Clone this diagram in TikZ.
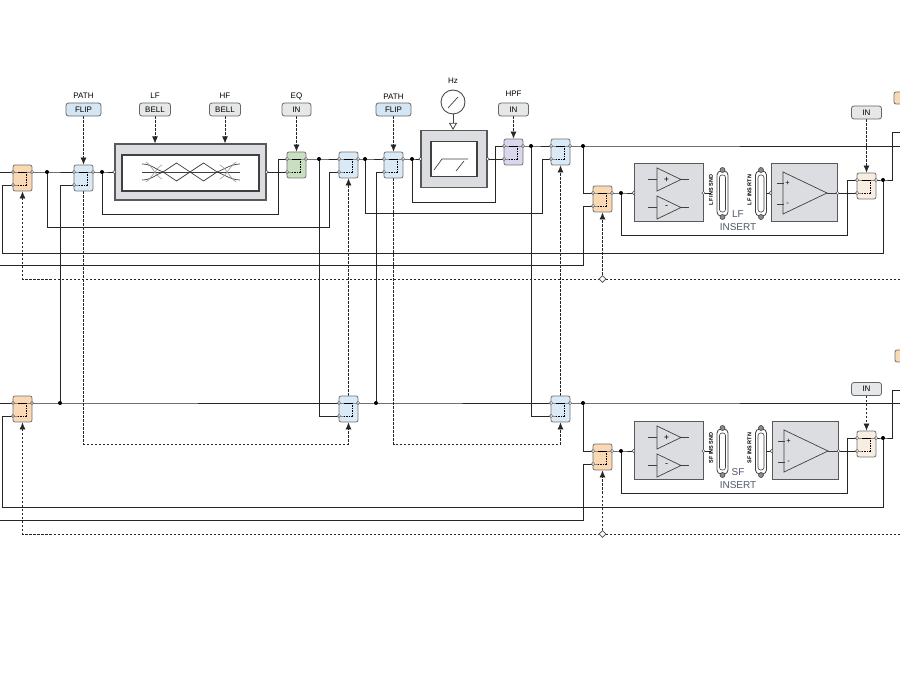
\documentclass[tikz,border=0pt]{standalone}
\usepackage{fontspec}
\setmainfont{Liberation Sans}
\usetikzlibrary{arrows.meta,shapes.geometric,calc}
\pgfdeclarelayer{back}
\pgfdeclarelayer{bg}
\pgfsetlayers{back,bg,main}
\definecolor{cOr}{HTML}{FAD8B4}
\definecolor{cBl}{HTML}{D9EAF6}
\definecolor{cGr}{HTML}{C8E0BF}
\definecolor{cPu}{HTML}{DAD6EE}
\definecolor{cCr}{HTML}{F7EDE0}
\definecolor{cBtn}{HTML}{E6E7E8}
\definecolor{cBtnB}{HTML}{D4E6F3}
\definecolor{cBox}{HTML}{DCDDE0}
\definecolor{cIns}{HTML}{505A6E}
\tikzset{
  wire/.style={line width=0.95pt, draw=black!85},
  ctl/.style={line width=0.75pt, draw=black!85, dash pattern=on 2.5pt off 1.5pt},
  arr/.style={-{Latex[length=7pt,width=6pt]}},
  btn/.style={draw=black!60, rounded corners=2.5pt, minimum height=13pt, inner sep=0pt, font=\fontsize{8}{9}\selectfont, line width=0.8pt},
  swb/.style={draw=black!55, rounded corners=2pt, minimum width=19pt, minimum height=26pt, inner sep=0pt, line width=0.8pt},
  lbl/.style={font=\fontsize{8}{9}\selectfont, inner sep=0pt},
  dot/.style={circle, fill=black, inner sep=0pt, minimum size=4pt},
  port/.style={circle, draw=black!70, fill=white, inner sep=0pt, minimum size=3.2pt, line width=0.5pt},
  blk/.style={draw=black!65, fill=cBox, line width=1.2pt, inner sep=0pt},
  inr/.style={draw=black!75, fill=white, line width=1.2pt, inner sep=0pt},
  ampbox/.style={draw=black!65, fill=cBox, line width=1pt, inner sep=0pt, minimum height=58pt},
  rotl/.style={font=\fontsize{5.5}{6}\selectfont\bfseries, rotate=90, inner sep=0pt},
  inslbl/.style={font=\fontsize{10}{11}\selectfont, text=cIns, inner sep=0pt},
  dmd/.style={diamond, draw=black!70, fill=white, inner sep=0pt, minimum size=7pt, line width=0.6pt},
  glyph/.style={draw=black!75, line width=0.7pt},
  fglyph/.style={draw=black!40, line width=0.6pt},
}
\newcommand\swnode[4]{%
  \node[swb, fill=#4] (#1) at ({#2+9.5},{#3+13}) {};
  \coordinate (#1-a) at (#2,{#3+7});
  \coordinate (#1-b) at (#2,{#3+20});
  \coordinate (#1-o) at ({#2+19},{#3+7});
  \draw[black!45, line width=0.5pt] (#1-a) -- (#1-o);
  \draw[black!45, line width=0.5pt] (#1-b) -- ++(5,0);
  \draw[black, line width=0.6pt] ({#2+5},{#3+7}) -- ({#2+13},{#3+7});
  \draw[black, line width=0.6pt, dash pattern=on 1.5pt off 1pt] ({#2+13},{#3+7}) -- ({#2+13},{#3+20}) -- ({#2+5},{#3+20});
  \node[port] (#1-pa) at (#1-a) {};
  \node[port] (#1-pb) at (#1-b) {};
  \node[port] (#1-po) at (#1-o) {};
}
\newcommand\dsubc[3]{%
  \node[draw=black!75, fill=white, rounded corners=4pt, minimum width=11pt, minimum height=45pt, inner sep=0pt, line width=0.8pt] (#1) at (#2,{#3+25.5}) {};
  \node[draw=black!75, fill=white, rounded corners=2.5pt, minimum width=6pt, minimum height=37pt, inner sep=0pt, line width=0.6pt] (#1i) at (#2,{#3+25.5}) {};
  \node[circle, draw=black!75, fill=black!45, minimum size=5pt, inner sep=0pt, line width=0.6pt] (#1t) at (#2,{#3+2}) {};
  \node[circle, draw=black!75, fill=black!45, minimum size=5pt, inner sep=0pt, line width=0.6pt] (#1u) at (#2,{#3+49}) {};
}
\newcommand\dualamp[2]{%
  \draw[glyph] ({#1-11.5},{#2-25}) -- ({#1-11.5},{#2-2}) -- ({#1+12.5},{#2-13.5}) -- cycle;
  \draw[glyph] ({#1-20.5},{#2-13.5}) -- ({#1-11.5},{#2-13.5});
  \draw[glyph] ({#1+12.5},{#2-13.5}) -- ({#1+20.5},{#2-13.5});
  \draw[glyph] ({#1-11.5},{#2+3}) -- ({#1-11.5},{#2+26}) -- ({#1+12.5},{#2+14.5}) -- cycle;
  \draw[glyph] ({#1-20.5},{#2+14.5}) -- ({#1-11.5},{#2+14.5});
  \draw[glyph] ({#1+12.5},{#2+14.5}) -- ({#1+20.5},{#2+14.5});
  \node[font=\fontsize{9}{9}\selectfont, inner sep=0pt] at ({#1-2},{#2-13.5}) {+};
  \node[font=\fontsize{9}{9}\selectfont, inner sep=0pt] at ({#1-2},{#2+14.5}) {-};
}
\newcommand\bigamp[2]{%
  \draw[glyph] ({#1-21},{#2-21}) -- ({#1-21},{#2+21}) -- ({#1+23},{#2}) -- cycle;
  \draw[glyph] ({#1-27},{#2-10}) -- ({#1-20},{#2-10});
  \draw[glyph] ({#1-27},{#2+11}) -- ({#1-20},{#2+11});
  \draw[glyph] ({#1+23},{#2}) -- ({#1+33},{#2});
  \node[font=\fontsize{7.5}{8}\selectfont, inner sep=0pt] at ({#1-16.5},{#2-10}) {+};
  \node[font=\fontsize{7.5}{8}\selectfont, inner sep=0pt] at ({#1-16.5},{#2+11}) {-};
}
\begin{document}
\begin{tikzpicture}[x=1pt,y=-1pt]
\useasboundingbox (0,0) rectangle (900,700);
\begin{pgfonlayer}{back}
\fill[white] (0,0) rectangle (900,700);
\end{pgfonlayer}

% ================= TOP CHANNEL =================
\swnode{ot}{13}{165}{cOr}
\swnode{bt1}{74}{165}{cBl}
\swnode{gt}{287}{152}{cGr}
\swnode{bt2}{339}{152}{cBl}
\swnode{bt3}{384}{152}{cBl}
\swnode{pt}{504}{139}{cPu}
\swnode{bt4}{551}{139}{cBl}
\swnode{ot3}{593}{186}{cOr}
\swnode{ct}{857}{173}{cCr}

% EQ block
\node[blk, minimum width=151pt, minimum height=56pt] (eq) at (190.5,172) {};
\node[inr, minimum width=137pt, minimum height=36pt] (eqi) at (190.5,173) {};
\node[port] (eqin) at (eq.west) {};
\node[port] (eqout) at (eq.east) {};
\draw[glyph] (142,172) -- (240,172);
\draw[glyph] (163,172) -- (176.5,163) -- (190,172) -- (176.5,181) -- cycle;
\draw[glyph] (190,172) -- (203.5,163) -- (217,172) -- (203.5,181) -- cycle;
\draw[glyph] (142,164) .. controls (151,164) and (157,170) .. (163,172);
\draw[glyph] (142,180) .. controls (151,180) and (157,174) .. (163,172);
\draw[fglyph] (146,162) .. controls (152,166) and (156,176) .. (162,179);
\draw[fglyph] (146,182) .. controls (152,178) and (156,168) .. (162,165);
\draw[glyph] (240,164) .. controls (231,164) and (223,170) .. (217,172);
\draw[glyph] (240,180) .. controls (231,180) and (223,174) .. (217,172);
\draw[fglyph] (236,162) .. controls (230,166) and (226,176) .. (220,179);
\draw[fglyph] (236,182) .. controls (230,178) and (226,168) .. (220,165);

% HPF block
\node[blk, minimum width=66pt, minimum height=57pt] (hpf) at (454,159) {};
\node[inr, minimum width=46pt, minimum height=35pt] (hpfi) at (454,159) {};
\node[port] (hpfin) at (hpf.west) {};
\node[port] (hpfout) at (hpf.east) {};
\draw[glyph] (434,170) -- (442,159) -- (468,159);
\draw[glyph] (456,171) -- (464,161);
\node[circle, draw=black!70, line width=0.9pt, minimum size=24pt, inner sep=0pt] (hz) at (453,102) {};
\draw[glyph] (448,108) -- (458,97);
\node[lbl] (lhz) at (453,81) {Hz};

% insert section (top)
\node[ampbox, minimum width=69pt] (at1) at (668.5,193) {};
\node[ampbox, minimum width=66pt] (at2) at (804,193) {};
\dualamp{668.5}{193}
\bigamp{804}{193}
\node[port] (at1in) at (at1.west) {};
\node[port] (at1out) at (at1.east) {};
\node[port] (at2in) at (at2.west) {};
\node[port] (at2out) at (at2.east) {};
\dsubc{cst}{722.5}{168}
\dsubc{crt}{761}{168}
\node[rotl] (lsndt) at (711,190) {LF INS SND};
\node[rotl] (lrtnt) at (749.5,190) {LF INS RTN};
\node[inslbl] (lft) at (738,214) {LF};
\node[inslbl] (linst) at (738,227) {INSERT};

% buttons top
\node[lbl] (lpath1) at (83.5,96) {PATH};
\node[btn, fill=cBtnB, minimum width=35pt] (flip1) at (83.5,109.5) {FLIP};
\node[lbl] (llf) at (155,96) {LF};
\node[btn, fill=cBtn, minimum width=31pt] (lfb) at (155,109.5) {BELL};
\node[lbl] (lhf) at (225,96) {HF};
\node[btn, fill=cBtn, minimum width=31pt] (hfb) at (225,109.5) {BELL};
\node[lbl] (leq) at (296.5,96) {EQ};
\node[btn, fill=cBtn, minimum width=29pt] (eqb) at (296.5,109.5) {IN};
\node[lbl] (lpath2) at (393.5,97) {PATH};
\node[btn, fill=cBtnB, minimum width=35pt] (flip2) at (393.5,109.5) {FLIP};
\node[lbl] (lhpf) at (513.5,94) {HPF};
\node[btn, fill=cBtn, minimum width=30pt] (hpfb) at (513.5,109.5) {IN};
\node[btn, fill=cBtn, minimum width=30pt] (inbt) at (866.5,112.5) {IN};
\draw[draw=black!55, fill=cOr, line width=0.8pt, rounded corners=2pt] (900,92) -- (894,92) -- (894,104) -- (900,104);

% dots top
\node[dot] (d1) at (47,172) {};
\node[dot] (d2) at (102,172) {};
\node[dot] (d3) at (319,159) {};
\node[dot] (d4) at (365,159) {};
\node[dot] (d5) at (412,159) {};
\node[dot] (d6) at (531,146) {};
\node[dot] (d7) at (583,146) {};
\node[dot] (d8) at (621,193) {};
\node[dot] (d9) at (883,180) {};
\node[dmd] (dmt) at (602.5,279) {};

% ================= BOTTOM CHANNEL =================
\swnode{ob}{13}{396}{cOr}
\swnode{bb2}{339}{396}{cBl}
\swnode{bb4}{551}{396}{cBl}
\swnode{ob3}{593}{444}{cOr}
\swnode{cb}{857}{431}{cCr}

\node[ampbox, minimum width=69pt] (ab1) at (668.5,451) {};
\node[ampbox, minimum width=66pt] (ab2) at (805,451) {};
\dualamp{668.5}{451}
\bigamp{805}{451}
\node[port] (ab1in) at (ab1.west) {};
\node[port] (ab1out) at (ab1.east) {};
\node[port] (ab2in) at (ab2.west) {};
\node[port] (ab2out) at (ab2.east) {};
\dsubc{csb}{722.5}{426}
\dsubc{crb}{761}{426}
\node[rotl] (lsndb) at (711,448) {SF INS SND};
\node[rotl] (lrtnb) at (749.5,448) {SF INS RTN};
\node[inslbl] (lsf) at (738,472) {SF};
\node[inslbl] (linsb) at (738,485) {INSERT};
\node[btn, fill=cBtn, minimum width=30pt] (inbb) at (866.5,389) {IN};
\draw[draw=black!55, fill=cOr, line width=0.8pt, rounded corners=2pt] (900,350) -- (895,350) -- (895,362) -- (900,362);

\node[dot] (e1) at (60,403) {};
\node[dot] (e2) at (376,403) {};
\node[dot] (e3) at (583,403) {};
\node[dot] (e4) at (621,451) {};
\node[dot] (e5) at (883,438) {};
\node[dmd] (dmb) at (602.5,534) {};

% named free ends / corners
\coordinate (inT) at (0,172);
\coordinate (inT2) at (0,265);
\coordinate (outT) at (900,146);
\coordinate (outT2) at (900,132);
\coordinate (ctlT) at (900,279);
\coordinate (inB) at (0,403);
\coordinate (inB2) at (0,520);
\coordinate (outB) at (900,403);
\coordinate (outB2) at (900,390);
\coordinate (ctlB) at (900,534);
\coordinate (k1) at (278,214);
\coordinate (k2) at (329,227);
\coordinate (k3) at (495,202);
\coordinate (k4) at (542,213);
\coordinate (k5) at (583,265);
\coordinate (k6) at (847,235);
\coordinate (k7) at (892,132);
\coordinate (k8) at (2,253);
\coordinate (k9) at (583,520);
\coordinate (k10) at (847,493);
\coordinate (k11) at (892,390);
\coordinate (k12) at (2,507);
\coordinate (q1) at (348.5,444);
\coordinate (q2) at (560.5,444);

\begin{pgfonlayer}{bg}
% top wires
\draw[wire] (inT) -- (ot-a);
\draw[wire] (ot-o) -- (d1.center) -- (bt1-a);
\draw[wire] (bt1-o) -- (d2.center) -- (eqin.center);
\draw[wire] (d2.center) |- (k1) |- (gt-a);
\draw[wire] (eqout.center) -- (gt-b);
\draw[wire] (gt-o) -- (d3.center) -- (bt2-a);
\draw[wire] (d1.center) |- (k2) |- (bt2-b);
\draw[wire] (bt2-o) -- (d4.center) -- (bt3-a);
\draw[wire] (bt3-b) -| (e2.center);
\draw[wire] (bt3-o) -- (d5.center) -- (hpfin.center);
\draw[wire] (hpfout.center) -- (pt-b);
\draw[wire] (d5.center) |- (k3) |- (pt-a);
\draw[wire] (pt-o) -- (d6.center) -- (bt4-a);
\draw[wire] (d4.center) |- (k4) |- (bt4-b);
\draw[wire] (bt4-o) -- (d7.center) -- (outT);
\draw[wire] (d7.center) |- (ot3-a);
\draw[wire] (inT2) -- (k5) |- (ot3-b);
\draw[wire] (ot3-o) -- (d8.center) -- (at1in.center);
\draw[wire] (at1out.center) -- ++(7,0);
\draw[wire] (at2in.center) -- ++(-7,0);
\draw[wire] (at2out.center) -- (ct-b);
\draw[wire] (d8.center) |- (k6) |- (ct-a);
\draw[wire] (ct-o) -- (d9.center) -| (k7) -- (outT2);
\draw[wire] (d9.center) |- (k8) |- (ot-b);
\draw[wire] (bt1-b) -| (e1.center);
\draw[wire] (d3.center) |- (bb2-b);
\draw[wire] (d6.center) |- (bb4-b);
% bottom wires
\draw[wire] (inB) -- (ob-a);
\draw[wire] (ob-o) -- (e1.center) -- (bb2-a);
\draw[wire] (bb2-o) -- (e2.center) -- (bb4-a);
\draw[wire] (bb4-o) -- (e3.center) -- (outB);
\draw[wire] (e3.center) |- (ob3-a);
\draw[wire] (inB2) -- (k9) |- (ob3-b);
\draw[wire] (ob3-o) -- (e4.center) -- (ab1in.center);
\draw[wire] (ab1out.center) -- ++(7,0);
\draw[wire] (ab2in.center) -- ++(-7,0);
\draw[wire] (ab2out.center) -- (cb-b);
\draw[wire] (e4.center) |- (k10) |- (cb-a);
\draw[wire] (cb-o) -- (e5.center) -| (k11) -- (outB2);
\draw[wire] (e5.center) |- (k12) |- (ob-b);
% controls
\draw[ctl,arr] (flip1.south) -- (bt1.north);
\draw[ctl,arr] (lfb.south) -- (lfb.south |- eq.north);
\draw[ctl,arr] (hfb.south) -- (hfb.south |- eq.north);
\draw[ctl,arr] (eqb.south) -- (gt.north);
\draw[ctl,arr] (flip2.south) -- (bt3.north);
\draw[ctl,arr] (hpfb.south) -- (pt.north);
\draw[ctl,arr] (inbt.south) -- (ct.north);
\draw[ctl,arr] (inbb.south) -- (cb.north);
\draw[line width=0.8pt, draw=black!75, -{Triangle[open,length=7pt,width=8pt]}] (hz.south) -- (hz.south |- hpf.north);
\draw[ctl,arr] (bt1.south) |- (q1) -- (bb2.south);
\draw[ctl,arr] (bb2.north) -- (bt2.south);
\draw[ctl,arr] (bt3.south) |- (q2) -- (bb4.south);
\draw[ctl,arr] (bb4.north) -- (bt4.south);
\draw[ctl,arr] (ctlT) -| (ot.south);
\draw[ctl,arr] (dmt.center) -- (ot3.south);
\draw[ctl,arr] (ctlB) -| (ob.south);
\draw[ctl,arr] (dmb.center) -- (ob3.south);
\end{pgfonlayer}
\end{tikzpicture}
\end{document}
